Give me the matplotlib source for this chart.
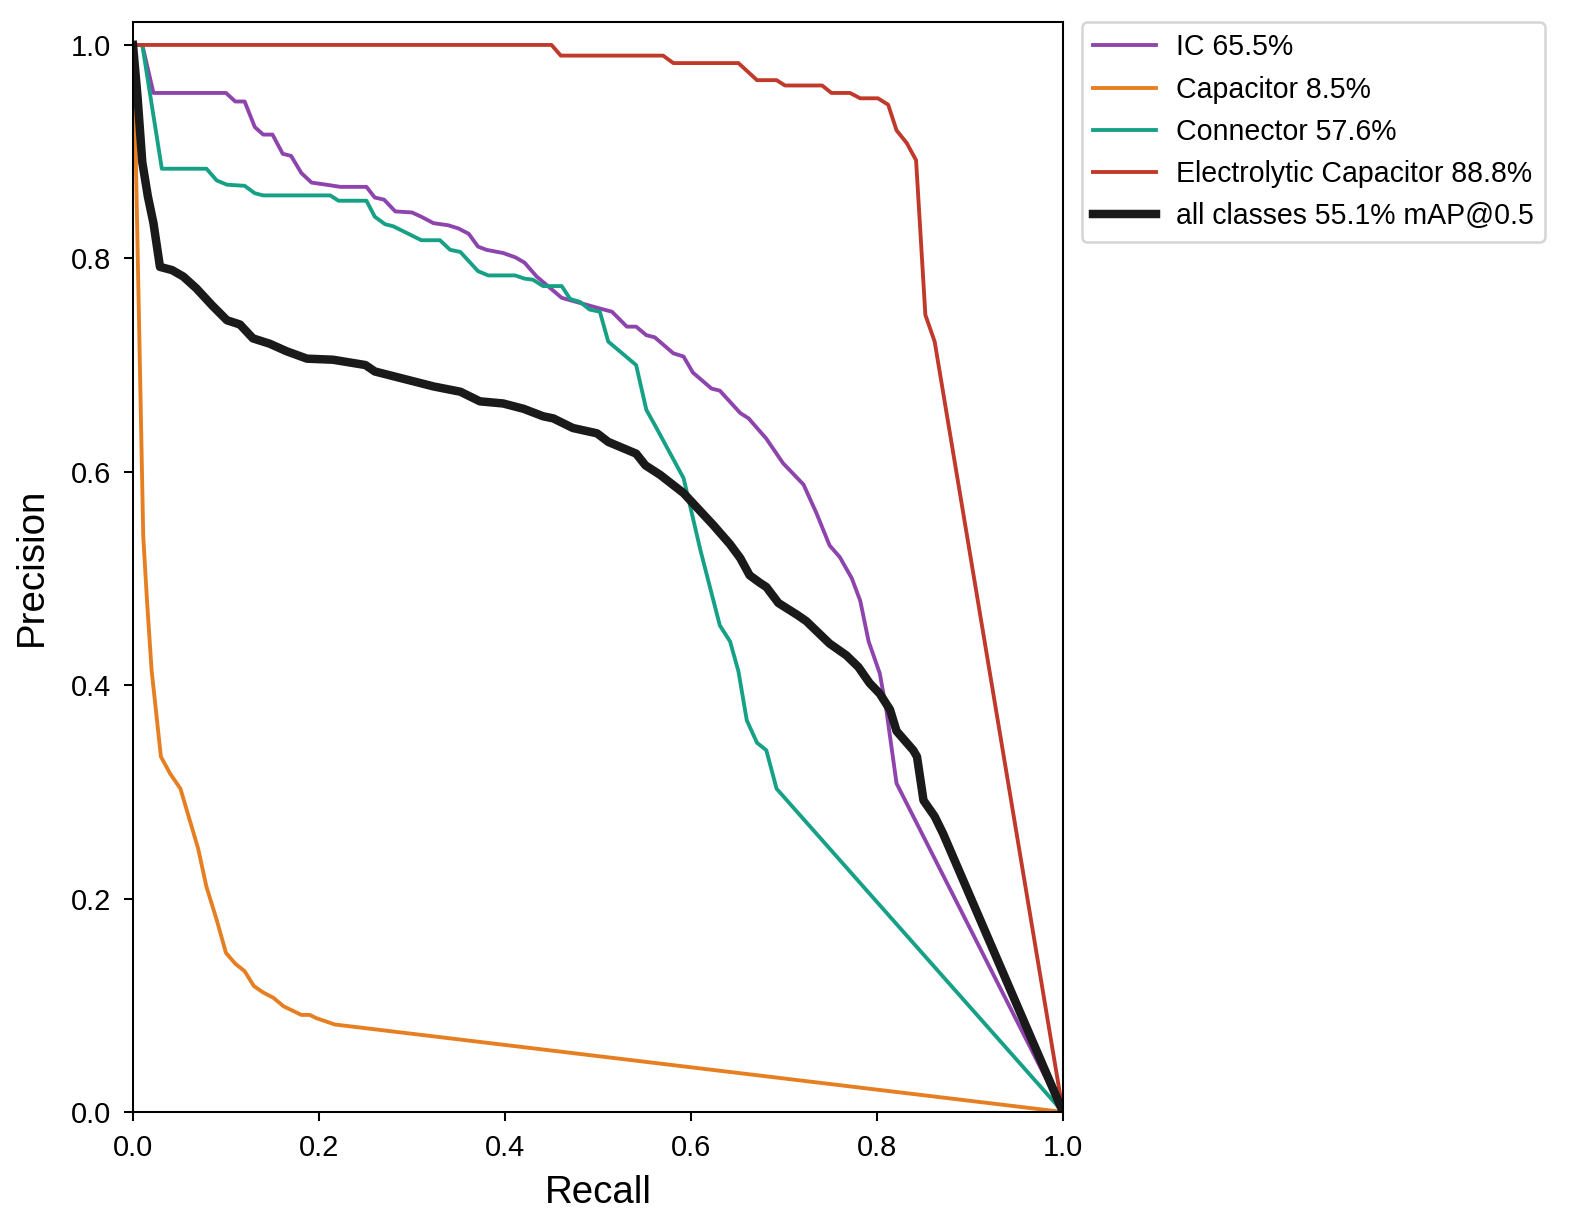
import matplotlib.pyplot as plt

plt.rcParams['font.family'] = ['Liberation Sans', 'DejaVu Sans']

# precision-recall points
ic_recall = [0, 0.01, 0.022, 0.100, 0.11, 0.12, 0.131, 0.14, 0.15, 0.161, 0.17, 0.181, 0.192, 0.208,
             0.223, 0.251, 0.26, 0.27, 0.282, 0.30, 0.31, 0.323, 0.339, 0.35, 0.361, 0.371, 0.38, 0.398,
             0.411, 0.421, 0.434, 0.461, 0.502, 0.515, 0.531, 0.541, 0.552, 0.561, 0.581, 0.592, 0.602,
             0.622, 0.631, 0.653, 0.662, 0.681, 0.699, 0.721, 0.735, 0.749, 0.760, 0.773, 0.782, 0.791,
             0.803, 0.810, 0.821, 1.0]
ic_precision = [1, 1, 0.955, 0.955, 0.947, 0.947, 0.923, 0.916, 0.916, 0.898, 0.896, 0.880, 0.871, 0.869,
                0.867, 0.867, 0.857, 0.855, 0.844, 0.843, 0.839, 0.833, 0.831, 0.828, 0.823, 0.811, 0.808,
                0.805, 0.801, 0.796, 0.783, 0.763, 0.753, 0.750, 0.736, 0.736, 0.728, 0.726, 0.711, 0.708,
                0.693, 0.678, 0.676, 0.655, 0.650, 0.631, 0.608, 0.588, 0.561, 0.531, 0.520, 0.500, 0.479,
                0.441, 0.411, 0.377, 0.308, 0.0]

cap_recall = [0, 0.002, 0.011, 0.015, 0.02, 0.03, 0.04, 0.051, 0.070, 0.079, 0.09, 0.10, 0.11, 0.12,
              0.13, 0.14, 0.151, 0.162, 0.181, 0.19, 0.197, 0.217, 1.0]
cap_precision = [1, 0.94, 0.54, 0.48, 0.414, 0.333, 0.317, 0.303, 0.247, 0.211, 0.180, 0.149, 0.139,
                 0.132, 0.118, 0.112, 0.107, 0.099, 0.091, 0.091, 0.088, 0.082, 0.0]

con_recall = [0, 0.01, 0.031, 0.079, 0.09, 0.101, 0.12, 0.131, 0.14, 0.212, 0.221, 0.251, 0.26, 0.271,
              0.28, 0.31, 0.33, 0.341, 0.352, 0.371, 0.382, 0.411, 0.421, 0.43, 0.441, 0.461, 0.470,
              0.481, 0.491, 0.502, 0.511, 0.541, 0.552, 0.561, 0.592, 0.595, 0.610, 0.631, 0.642, 0.651,
              0.660, 0.671, 0.681, 0.692, 1.0]
con_precision = [1, 1, 0.884, 0.884, 0.873, 0.869, 0.868, 0.861, 0.859, 0.859, 0.854, 0.854, 0.839,
                 0.832, 0.830, 0.817, 0.817, 0.808, 0.806, 0.788, 0.784, 0.784, 0.781, 0.780, 0.774,
                 0.774, 0.762, 0.759, 0.752, 0.750, 0.722, 0.700, 0.658, 0.644, 0.594, 0.583, 0.527,
                 0.456, 0.441, 0.413, 0.367, 0.346, 0.339, 0.303, 0.0]

ele_recall = [0, 0.45, 0.46, 0.570, 0.581, 0.651, 0.671, 0.692, 0.701, 0.741, 0.751, 0.771, 0.782,
              0.801, 0.812, 0.821, 0.832, 0.842, 0.852, 0.862, 1.0]
ele_precision = [1, 1, 0.99, 0.99, 0.983, 0.983, 0.967, 0.967, 0.962, 0.962, 0.955, 0.955, 0.950,
                 0.950, 0.944, 0.920, 0.908, 0.892, 0.747, 0.722, 0.0]

all_recall = [0, 0.005, 0.01, 0.016, 0.022, 0.029, 0.042, 0.054, 0.068, 0.085, 0.101, 0.115, 0.129,
              0.147, 0.165, 0.187, 0.215, 0.25, 0.26, 0.287, 0.323, 0.352, 0.373, 0.398, 0.420, 0.441,
              0.452, 0.473, 0.499, 0.511, 0.541, 0.551, 0.567, 0.592, 0.624, 0.642, 0.653, 0.663, 0.674,
              0.681, 0.694, 0.714, 0.724, 0.749, 0.767, 0.780, 0.792, 0.803, 0.814, 0.821, 0.839, 0.843,
              0.850, 0.862, 0.871, 1.0]
all_precision = [1, 0.95, 0.89, 0.858, 0.833, 0.792, 0.789, 0.783, 0.772, 0.756, 0.742, 0.738, 0.725,
                 0.72, 0.713, 0.706, 0.705, 0.700, 0.694, 0.688, 0.680, 0.675, 0.666, 0.664, 0.659,
                 0.652, 0.650, 0.641, 0.636, 0.628, 0.617, 0.606, 0.597, 0.580, 0.550, 0.532, 0.519,
                 0.503, 0.496, 0.492, 0.477, 0.466, 0.460, 0.439, 0.428, 0.417, 0.402, 0.392, 0.377,
                 0.357, 0.339, 0.333, 0.292, 0.277, 0.261, 0.0]

labels = ["IC 65.5%", "Capacitor 8.5%", "Connector 57.6%", "Electrolytic Capacitor 88.8%"]
colors = ["#8e44ad", "#e67e22", "#16a085", "#c0392b"]

fig = plt.figure(figsize=(1571 / 185, 1226 / 185))
ax = fig.add_axes([133 / 1571, 1 - 1112 / 1226, 930 / 1571, 1090 / 1226])

curves = [(ic_recall, ic_precision), (cap_recall, cap_precision),
          (con_recall, con_precision), (ele_recall, ele_precision)]
for (r, p), lab, col in zip(curves, labels, colors):
    ax.plot(r, p, color=col, linewidth=1.5, label=lab)
ax.plot(all_recall, all_precision, color="#1a1a1a", linewidth=3.3, label="all classes 55.1% mAP@0.5")

ax.set_xlim(0, 1)
ax.set_ylim(0, 1.0215)
ax.set_xticks([0, 0.2, 0.4, 0.6, 0.8, 1.0])
ax.set_yticks([0, 0.2, 0.4, 0.6, 0.8, 1.0])
ax.tick_params(labelsize=11.3, pad=5)
ax.set_xlabel("Recall", fontsize=15, labelpad=5)
ax.set_ylabel("Precision", fontsize=15, labelpad=8)
ax.legend(loc="upper left", bbox_to_anchor=(1.02, 1.0), borderaxespad=0, fontsize=11.1,
          handlelength=2.2, handletextpad=0.7)

fig.savefig("out.png", dpi=185)
